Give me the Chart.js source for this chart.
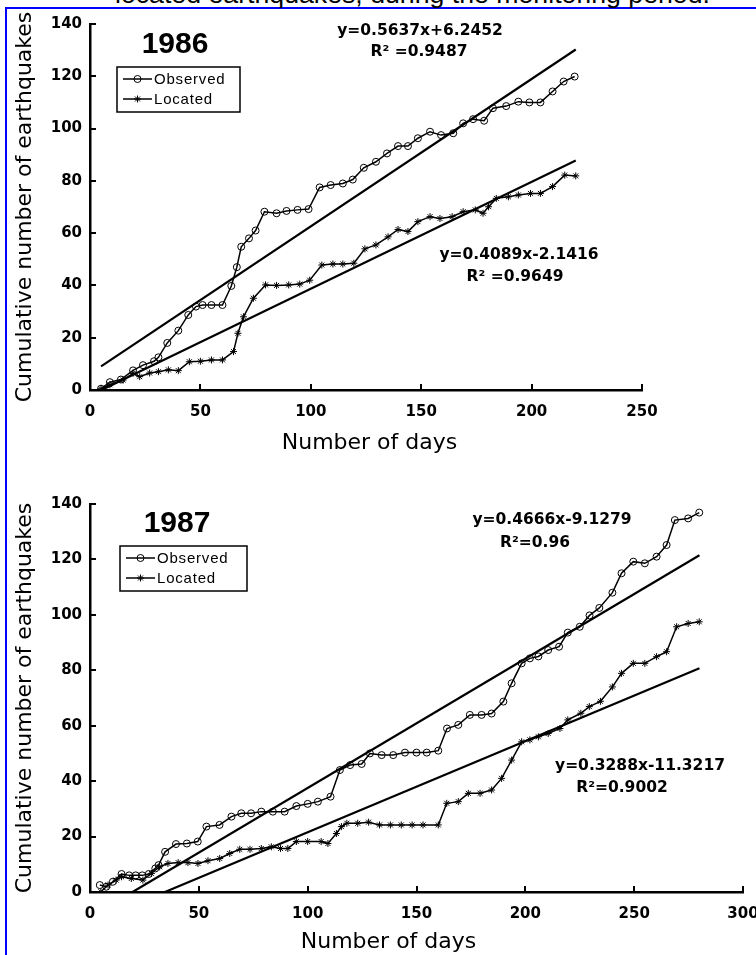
<!DOCTYPE html>
<html>
<head>
<meta charset="utf-8">
<script src="https://cdn.jsdelivr.net/npm/chart.js@4.4.0/dist/chart.umd.min.js"></script>
<style>
html,body{margin:0;padding:0;background:#fff;width:756px;height:955px;overflow:hidden;position:relative;}
#frame{position:absolute;left:5px;top:7px;width:800px;height:1000px;border-left:2px solid #0000ff;border-top:2px solid #0000ff;}
#title{position:absolute;left:115px;top:-18.6px;font:26.7px "Liberation Sans",Arial,sans-serif;line-height:26.7px;white-space:nowrap;color:#000;}
canvas{position:absolute;left:0;}
.t{position:absolute;transform:translate(-50%,-50%);white-space:nowrap;line-height:1;color:#000;}
.eq{font:bold 15.5px "DejaVu Sans",sans-serif;}
.yr{font:bold 30px "Liberation Sans",Arial,sans-serif;}
</style>
</head>
<body>
<div id="frame"></div>
<div id="title">located earthquakes, during the monitoring period.</div>
<canvas id="c1986" width="756" height="470" style="top:0px"></canvas>
<canvas id="c1987" width="756" height="480" style="top:475px"></canvas>

<div class="t yr" style="left:175px;top:43px">1986</div>
<div class="t eq" style="left:420px;top:30px">y=0.5637x+6.2452</div>
<div class="t eq" style="left:419px;top:51px">R² =0.9487</div>
<div class="t eq" style="left:519px;top:254px">y=0.4089x-2.1416</div>
<div class="t eq" style="left:515px;top:276px">R² =0.9649</div>

<div class="t yr" style="left:177px;top:522px">1987</div>
<div class="t eq" style="left:552px;top:519px">y=0.4666x-9.1279</div>
<div class="t eq" style="left:535px;top:542px">R²=0.96</div>
<div class="t eq" style="left:640px;top:765px">y=0.3288x-11.3217</div>
<div class="t eq" style="left:622px;top:787px">R²=0.9002</div>

<script>
// ---------------- DATA ----------------
const xTicks1986 = [0, 50, 100, 150, 200, 250];
const xTicks1987 = [0, 50, 100, 150, 200, 250, 300];
const yTicks = [0, 20, 40, 60, 80, 100, 120, 140];

const days1986Observed = [5,9,14,19.5,24,29,31,35,40,44.5,48,51,55,60,64,66.5,68.5,72,75,79,84.5,89,94,99,104,109,114.5,119,124,129.5,134.5,139.5,144,148.5,154,159,164.5,169,173.5,178.5,182.5,188.5,194,199,204,209.5,214.5,219.5];
const count1986Observed = [0.5,3,4,7.5,9.5,11,12.5,18,22.7,28.7,31.9,32.5,32.5,32.5,39.8,47,54.8,58,61,68.2,67.6,68.5,68.9,69.2,77.5,78.4,79,80.5,85,87.3,90.5,93.3,93.3,96.3,98.8,97.5,98.2,102,103.6,103,107.8,108.6,110.3,110,110,114.2,118,119.9];

const days1986Located = [5,9,15,19.5,22.5,27,31,35.5,40,45,50,55,60,65,67,69.5,74,79.5,84.5,90,95,99.5,105,110,114.5,119.5,124.5,129.5,135,139.5,144,148.5,154,158.5,164,169,174.5,178,180.5,184,189.5,194,199.5,204,209.5,215,220];
const count1986Located = [0.5,2,3.8,6.4,5.1,6.5,7,7.7,7.4,10.8,11,11.5,11.5,14.7,21.7,28,35.1,40.2,40,40.2,40.5,42,47.8,48.2,48.2,48.5,54,55.5,58.6,61.4,60.6,64.4,66.3,65.6,66.3,68.2,68.9,67.6,70.1,73.3,73.9,74.6,75.2,75.2,77.8,82.2,81.9];

const days1987Observed = [4.5,7.5,10.5,14.5,18,21,24,27,30,31.5,34.5,39.5,44.5,49.5,53.5,59.5,65,69.5,74,78.7,84,89.4,94.8,100,104.7,110.5,114.8,119.5,124.8,128.6,134,139.3,144.7,150,154.7,160,164,169.2,174.5,179.9,184.5,189.9,193.7,198.3,202.1,206,210.5,215.5,219.5,225,229.5,234,240,244.2,249.6,254.9,260.3,264.9,268.7,274.8,279.9];
const count1987Observed = [2.5,1.9,3.7,6.5,6,6,6,6.5,8.5,9.7,14.5,17.3,17.5,18.2,23.6,24.2,27.2,28.4,28.4,29,29,29,31,31.8,32.6,34.4,44,45.8,46.2,50,49.4,49.4,50.3,50.3,50.3,51,59,60.3,63.9,63.9,64.4,68.7,75.3,82.5,84.3,85,87.3,88.5,93.6,95.7,99.8,102.5,108,115,119.2,118.6,121,125.2,134.2,134.8,136.9];

const days1987Located = [5,8.3,12,14.5,19,24.3,28.2,32,35.8,40.5,45,49.6,54.2,59.6,64.2,68.8,73.5,78.7,83.3,87.5,90.9,94.8,100,106.2,109.3,113.2,115.5,118,123,128,133,138,143,148,153,160,163.9,169.2,173.8,179.2,184.5,189.1,193.7,198.3,202.1,206,210.5,215.9,219.5,225.5,229.4,234.5,240,244.2,249.6,254.9,260.3,264.9,269.5,274.8,279.9];
const count1987Located = [0.1,2.5,4.3,5.5,4.9,4.3,6.7,9.1,10.3,10.6,10.6,10.3,11.3,12.1,13.9,15.4,15.4,15.7,16.3,15.7,15.7,18.2,18.2,18.2,17.5,21.1,23.6,24.8,24.8,25.2,24.2,24.2,24.2,24.2,24.2,24.2,32,32.6,35.6,35.6,36.8,41,47.6,54.2,54.9,56,57.2,59,62.1,64.5,66.9,68.8,74,78.9,82.5,82.5,84.9,86.7,95.7,96.9,97.5];

// regression line end points (from the printed equations)
const trend1986ObservedX = [5, 220];
const trend1986ObservedY = [9.06, 130.26];
const trend1986LocatedX = [5.24, 220];
const trend1986LocatedY = [0, 87.82];
const trend1987ObservedX = [19.56, 280];
const trend1987ObservedY = [0, 121.52];
const trend1987LocatedX = [34.43, 280];
const trend1987LocatedY = [0, 80.74];

const legendLabels = ['Observed', 'Located'];
const yTitle = 'Cumulative number of earthquakes';
const xTitle = 'Number of days';

// ---------------- HELPERS ----------------
function toPts(xs, ys) { return xs.map((x, i) => ({ x: x, y: ys[i] })); }

const insideTicks = {
  id: 'insideTicks',
  afterDraw(chart, args, opts) {
    const ctx = chart.ctx, a = chart.chartArea, xs = chart.scales.x, ys = chart.scales.y;
    ctx.save();
    ctx.strokeStyle = '#000';
    ctx.lineWidth = 2;
    xs.ticks.forEach(t => {
      if (t.value === 0) return;
      const px = Math.round(xs.getPixelForValue(t.value));
      ctx.beginPath(); ctx.moveTo(px, a.bottom); ctx.lineTo(px, a.bottom - 6); ctx.stroke();
    });
    ys.ticks.forEach(t => {
      if (t.value === 0) return;
      const py = Math.round(ys.getPixelForValue(t.value));
      ctx.beginPath(); ctx.moveTo(a.left, py); ctx.lineTo(a.left + 6, py); ctx.stroke();
    });
    // legend box
    const L = opts.legend;
    if (L) {
      ctx.lineWidth = 1.5;
      ctx.strokeRect(L.x, L.y, L.w, L.h);
      const dsets = chart.data.datasets;
      L.rows.forEach((ry, i) => {
        const ds = dsets[i];
        ctx.lineWidth = 1.5;
        ctx.strokeStyle = '#000';
        ctx.beginPath(); ctx.moveTo(L.x1, ry); ctx.lineTo(L.x2, ry); ctx.stroke();
        ctx.fillStyle = 'rgba(0,0,0,0)';
        ctx.lineWidth = 1;
        Chart.helpers.drawPoint(ctx, { pointStyle: ds.pointStyle, radius: ds.pointRadius, borderWidth: 1, rotation: 0 }, (L.x1 + L.x2) / 2, ry);
        ctx.fillStyle = '#000';
        ctx.font = '15px "Liberation Sans", Arial, sans-serif';
        try { ctx.letterSpacing = '0.8px'; } catch (e) {}
        ctx.textBaseline = 'middle';
        ctx.textAlign = 'left';
        ctx.fillText(ds.label, L.tx, ry + 1);
      });
    }
    ctx.restore();
  }
};

function buildChart(id, c) {
  const tickFont = { family: '"DejaVu Sans", sans-serif', size: 15, weight: 'bold' };
  const titleFont = { family: '"DejaVu Sans", sans-serif', size: 22, weight: 'normal' };
  return new Chart(document.getElementById(id), {
    type: 'line',
    data: {
      datasets: [
        { label: legendLabels[0], data: toPts(c.obsX, c.obsY), borderColor: '#000', borderWidth: 1.5,
          pointStyle: 'circle', pointRadius: 3.5, pointBorderWidth: 1, pointBorderColor: '#000',
          pointBackgroundColor: 'rgba(0,0,0,0)', tension: 0, fill: false },
        { label: legendLabels[1], data: toPts(c.locX, c.locY), borderColor: '#000', borderWidth: 1.5,
          pointStyle: 'star', pointRadius: 3.5, pointBorderWidth: 1, pointBorderColor: '#000',
          pointBackgroundColor: 'rgba(0,0,0,0)', tension: 0, fill: false },
        { label: 'Observed trend', data: toPts(c.tObsX, c.tObsY), borderColor: '#000', borderWidth: 2.2, pointRadius: 0, tension: 0, fill: false },
        { label: 'Located trend', data: toPts(c.tLocX, c.tLocY), borderColor: '#000', borderWidth: 2.2, pointRadius: 0, tension: 0, fill: false }
      ]
    },
    options: {
      responsive: false, animation: false, devicePixelRatio: 1,
      layout: { padding: { top: c.padTop, right: c.padRight, bottom: 0, left: 0 } },
      plugins: { legend: { display: false }, tooltip: { enabled: false }, insideTicks: { legend: c.legend } },
      scales: {
        x: {
          type: 'linear', min: 0, max: c.xMax,
          afterBuildTicks: s => { s.ticks = c.xTicks.map(v => ({ value: v })); },
          ticks: { padding: 13, font: tickFont, color: '#000', maxRotation: 0, autoSkip: false },
          grid: { display: false, drawTicks: false },
          border: { display: true, color: '#000', width: 2.5 },
          title: { display: true, text: c.xTitleText, font: titleFont, color: '#000', padding: { top: 0, bottom: c.xTitlePad } },
          afterFit: s => { s.height = c.xHeight; s.paddingLeft = 0; s.paddingRight = 0; }
        },
        y: {
          type: 'linear', min: 0, max: 140,
          afterBuildTicks: s => { s.ticks = yTicks.map(v => ({ value: v })); },
          ticks: { padding: 8, font: tickFont, color: '#000' },
          grid: { display: false, drawTicks: false },
          border: { display: true, color: '#000', width: 2.5 },
          title: { display: true, text: yTitle, font: titleFont, color: '#000', padding: { top: 12, bottom: 0 } },
          afterFit: s => { s.width = 90; s.paddingTop = 0; s.paddingBottom = 0; }
        }
      }
    },
    plugins: [insideTicks]
  });
}

buildChart('c1986', {
  obsX: days1986Observed, obsY: count1986Observed,
  locX: days1986Located, locY: count1986Located,
  tObsX: trend1986ObservedX, tObsY: trend1986ObservedY,
  tLocX: trend1986LocatedX, tLocY: trend1986LocatedY,
  xMax: 250, xTicks: xTicks1986, padTop: 24, padRight: 114, xHeight: 80, xTitlePad: 14,
  xTitleText: ' ' + xTitle,
  legend: { x: 117, y: 67, w: 123, h: 45, rows: [79, 99], x1: 123, x2: 152, tx: 154 }
});

buildChart('c1987', {
  obsX: days1987Observed, obsY: count1987Observed,
  locX: days1987Located, locY: count1987Located,
  tObsX: trend1987ObservedX, tObsY: trend1987ObservedY,
  tLocX: trend1987LocatedX, tLocY: trend1987LocatedY,
  xMax: 300, xTicks: xTicks1987, padTop: 29, padRight: 13, xHeight: 63, xTitlePad: 0,
  xTitleText: xTitle + '        ',
  legend: { x: 120, y: 71, w: 127, h: 45, rows: [83, 103], x1: 126, x2: 155, tx: 157 }
});
</script>
</body>
</html>
